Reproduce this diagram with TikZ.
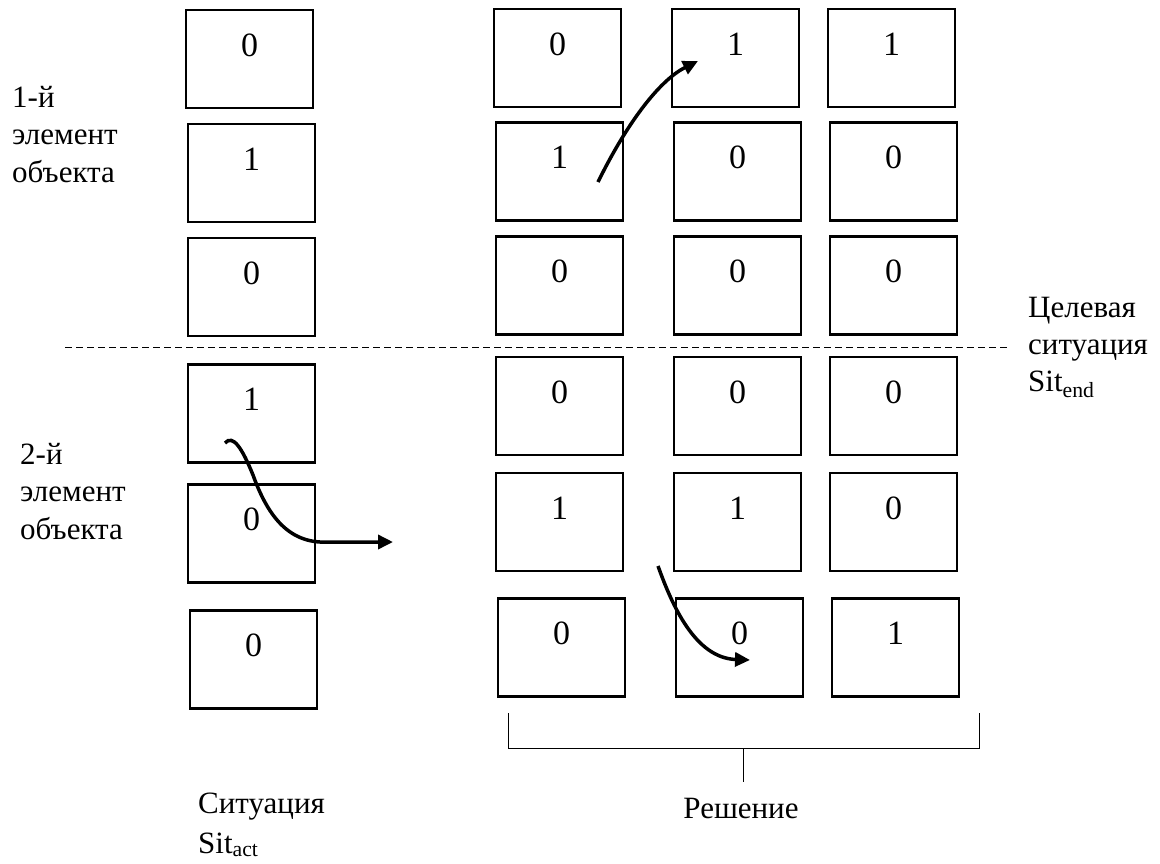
\documentclass[tikz,border=0pt]{standalone}
\usepackage{fontspec}
\setmainfont{Liberation Serif}
\usepackage{tikz}
\usetikzlibrary{arrows.meta}

\begin{document}
\begin{tikzpicture}[x=1pt,y=-1pt,
    cell/.style={draw,line width=2.5pt,minimum width=127pt,minimum height=98pt,inner sep=0pt,
      text height=23pt,text depth=29pt,font=\fontsize{34}{36}\selectfont},
    lbl/.style={inner sep=0pt,align=left,anchor=north west,font=\fontsize{31}{37.5}\selectfont},
    flow/.style={line width=3.5pt,-{Triangle[length=15pt,width=14pt]}}]
  \useasboundingbox (0,0) rectangle (1160,863);
  %% situation Sit_act
  \node[cell] (s1) at (249.5,59) {0};
  \node[cell] (s2) at (251.5,173) {1};
  \node[cell] (s3) at (251.5,287) {0};
  \node[cell] (s4) at (251.5,413.5) {1};
  \node[cell] (s5) at (251.5,533.5) {0};
  \node[cell] (s6) at (253.5,659.5) {0};
  %% solution, first element
  \node[cell] (r11) at (557.5,58) {0};
  \node[cell] (r12) at (735.5,58) {1};
  \node[cell] (r13) at (891.5,58) {1};
  \node[cell] (r21) at (559.5,171.5) {1};
  \node[cell] (r22) at (737.5,171.5) {0};
  \node[cell] (r23) at (893.5,171.5) {0};
  \node[cell] (r31) at (559.5,285.5) {0};
  \node[cell] (r32) at (737.5,285.5) {0};
  \node[cell] (r33) at (893.5,285.5) {0};
  %% solution, second element
  \node[cell] (r41) at (559.5,406) {0};
  \node[cell] (r42) at (737.5,406) {0};
  \node[cell] (r43) at (893.5,406) {0};
  \node[cell] (r51) at (559.5,522) {1};
  \node[cell] (r52) at (737.5,522) {1};
  \node[cell] (r53) at (893.5,522) {0};
  \node[cell] (r61) at (561.5,647.5) {0};
  \node[cell] (r62) at (739.5,647.5) {0};
  \node[cell] (r63) at (895.5,647.5) {1};
  %% border between the elements
  \coordinate (dl) at (65,347);
  \coordinate (dr) at (1010,347);
  \draw[line width=1pt,dash pattern=on 7pt off 4pt] (dl) -- (dr);
  %% labels
  \node[lbl] (el1) at (12,86) {1-й\\элемент\\объекта};
  \node[lbl] (el2) at (20,443) {2-й\\элемент\\объекта};
  \node[lbl,font=\fontsize{31}{37}\selectfont] (goal) at (1028,296.5) {Целевая\\ситуация\\Sit\textsubscript{end}};
  \node[lbl,font=\fontsize{31}{40}\selectfont] (act) at (198,792.5) {Ситуация\\Sit\textsubscript{act}};
  \node[inner sep=0pt,anchor=base,font=\fontsize{31}{36}\selectfont] (sol) at (741,818) {Решение};
  %% brace under the solution
  \coordinate (bl) at (508,713);
  \coordinate (br) at (979,713);
  \coordinate (bm) at (743.5,748);
  \draw[line width=1pt] (bl) -- (508,748) -- (979,748) -- (br);
  \draw[line width=1pt] (bm) -- ++(0,34);
  %% moves
  \coordinate (m1a) at (598,182);
  \coordinate (m1b) at (698,61);
  \draw[flow] (m1a) .. controls (630,117) and (662,79) .. (m1b);
  \coordinate (m2a) at (225,443);
  \coordinate (m2b) at (393,542);
  \draw[flow] (m2a) .. controls (233,434) and (242,448) .. (253,475)
    .. controls (265,508) and (283,540) .. (320,542) -- (m2b);
  \coordinate (m3a) at (658,566);
  \coordinate (m3b) at (750,660);
  \draw[flow] (m3a) .. controls (672,605) and (695,658) .. (m3b);
\end{tikzpicture}
\end{document}
